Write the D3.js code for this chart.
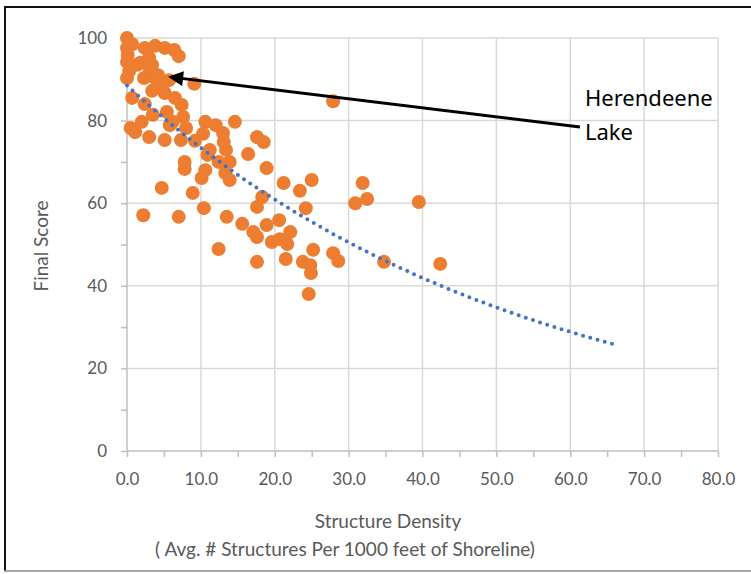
<!DOCTYPE html>
<html><head><meta charset="utf-8">
<script src="https://cdn.jsdelivr.net/npm/d3@7"></script>
<style>body{margin:0;background:#fff}svg{display:block}</style>
</head><body>
<script>
// Data (structure density vs final score)
const densityValues = [0.0,0.7,0.0,0.1,2.4,3.8,5.1,6.4,7.0,3.0,3.4,3.1,0.3,0.0,1.4,2.3,3.8,4.7,5.7,9.1,0.7,2.4,3.4,5.1,6.5,7.4,1.8,4.2,0.0,
  5.4,6.2,7.6,3.5,2.0,0.5,1.1,3.0,5.1,7.3,5.8,10.6,12.0,13.0,13.1,10.3,14.6,17.6,18.5,9.2,11.2,10.9,13.4,12.4,13.9,16.4,7.8,7.8,10.6,10.1,
  13.3,13.9,18.9,4.7,8.9,21.2,25.0,23.4,18.3,17.6,10.4,24.2,2.2,7.0,13.5,15.6,18.9,20.6,17.1,17.6,22.1,19.6,20.7,21.7,12.4,25.2,17.6,21.5,
  23.8,24.9,24.6,27.9,27.9,28.6,30.9,31.9,32.5,34.8,39.5,42.4,24.8,8.0];
const finalScores = [100,98.5,97.6,95.9,97.6,98.1,97.6,97.1,95.6,95.2,93.5,92.0,92.0,90.3,93.5,90.3,90.3,88.6,89.8,88.9,85.5,84.0,87.2,86.7,85.5,83.8,94.0,91.0,94.2,
  82.1,79.7,80.9,81.4,79.7,78.2,77.2,76.0,75.3,75.3,78.9,79.7,78.9,77.0,74.8,76.8,79.7,76.0,74.8,75.1,72.9,71.7,72.9,70.0,70.0,71.9,70.0,68.3,68.0,66.1,
  67.3,65.6,68.5,63.7,62.5,64.9,65.6,63.0,61.5,59.1,58.8,58.8,57.1,56.7,56.7,55.0,54.7,55.9,53.0,51.8,53.0,50.6,51.3,50.1,48.9,48.7,45.8,46.5,
  45.8,43.1,38.0,84.7,47.9,46.0,60.0,64.9,61.0,45.8,60.3,45.3,45.0,78.2];
const xTicks = [0,10,20,30,40,50,60,70,80];
const yTicks = [0,20,40,60,80,100];
const trendForecastEnd = 66; // trendline drawn from 0 to here
const annotationLines = ["Herendeene","Lake"];
const annotatedPoint = [5.7, 89.8];

const W = 751, H = 574;
const svg = d3.select("body").append("svg").attr("width", W).attr("height", H);

const x = d3.scaleLinear().domain([0,80]).range([127,718]);
const y = d3.scaleLinear().domain([0,100]).range([451,38]);

// frame
svg.append("line").attr("x1",4).attr("x2",W).attr("y1",7).attr("y2",7).attr("stroke","#111").attr("stroke-width",2);
svg.append("line").attr("x1",5).attr("x2",5).attr("y1",6).attr("y2",571).attr("stroke","#111").attr("stroke-width",2);
svg.append("line").attr("x1",4).attr("x2",W).attr("y1",571).attr("y2",571).attr("stroke","#888").attr("stroke-width",1.5);

const gridColor = "#d9d9d9";
// gridlines
svg.append("g").selectAll("line").data(xTicks.slice(1)).join("line")
  .attr("x1",d=>x(d)).attr("x2",d=>x(d)).attr("y1",y(100)).attr("y2",y(0))
  .attr("stroke",gridColor).attr("stroke-width",1.5);
svg.append("g").selectAll("line").data(yTicks.slice(1)).join("line")
  .attr("x1",x(0)).attr("x2",x(80)).attr("y1",d=>y(d)).attr("y2",d=>y(d))
  .attr("stroke",gridColor).attr("stroke-width",1.5);

const font = "Lato, 'Open Sans', sans-serif";
const tickColor = "#595959";
// x axis
const xAxis = svg.append("g").attr("transform",`translate(0,${y(0)})`)
  .call(d3.axisBottom(x).tickValues(d3.range(0,81,5)).tickSize(6).tickPadding(16)
    .tickFormat(d => d % 10 === 0 ? d3.format(".1f")(d) : ""));
xAxis.select(".domain").attr("stroke","#bfbfbf").attr("stroke-width",1.5).attr("d",`M${x(0)},0H${x(80)}`);
xAxis.selectAll(".tick line").attr("stroke","#bfbfbf").attr("stroke-width",1.5).attr("y1",0);
xAxis.selectAll("text").attr("font-family",font).attr("font-size",17).attr("fill",tickColor);

// y axis
const yAxis = svg.append("g").attr("transform",`translate(${x(0)},0)`)
  .call(d3.axisLeft(y).tickValues(d3.range(0,101,10)).tickSize(6).tickPadding(14)
    .tickFormat(d => d % 20 === 0 ? d : ""));
yAxis.select(".domain").attr("stroke","#bfbfbf").attr("stroke-width",1.5).attr("d",`M0,${y(0)}V${y(100)}`);
yAxis.selectAll(".tick line").attr("stroke","#bfbfbf").attr("stroke-width",1.5);
yAxis.selectAll("text").attr("font-family",font).attr("font-size",17).attr("fill",tickColor);

// axis titles
svg.append("text").attr("x",388).attr("y",528).attr("text-anchor","middle")
  .attr("font-family",font).attr("font-size",19).attr("fill",tickColor).text("Structure Density");
svg.append("text").attr("x",345).attr("y",556).attr("text-anchor","middle")
  .attr("font-family",font).attr("font-size",19).attr("fill",tickColor).text("( Avg. # Structures Per 1000 feet of Shoreline)");
svg.append("text").attr("transform","translate(48,246) rotate(-90)").attr("text-anchor","middle")
  .attr("font-family",font).attr("font-size",19).attr("fill",tickColor).text("Final Score");

// points
const pts = densityValues.map((d,i)=>({x:d,y:finalScores[i]}));
svg.append("g").selectAll("circle").data(pts).join("circle")
  .attr("cx",d=>x(d.x)).attr("cy",d=>y(d.y)).attr("r",7).attr("fill","#ED7D31");

// exponential trendline (least squares on ln y, as spreadsheet does)
const mx = d3.mean(pts,d=>d.x), my = d3.mean(pts,d=>Math.log(d.y));
const b = d3.sum(pts,d=>(d.x-mx)*(Math.log(d.y)-my)) / d3.sum(pts,d=>(d.x-mx)**2);
const a = Math.exp(my - b*mx);
const trendPts = d3.range(0, trendForecastEnd+0.01, 0.5).map(t=>[t, a*Math.exp(b*t)]);
svg.append("path").datum(trendPts)
  .attr("d", d3.line().x(d=>x(d[0])).y(d=>y(d[1])))
  .attr("fill","none").attr("stroke","#4472C4").attr("stroke-width",4)
  .attr("stroke-linecap","round").attr("stroke-dasharray","0 7.5");

// annotation arrow
const defs = svg.append("defs");
defs.append("marker").attr("id","ah").attr("viewBox","0 0 10 10").attr("refX",8).attr("refY",5)
  .attr("markerWidth",6).attr("markerHeight",5).attr("orient","auto")
  .append("path").attr("d","M0,0L10,5L0,10z").attr("fill","#000");
svg.append("line").attr("x1",580).attr("y1",127).attr("x2",x(annotatedPoint[0])+2).attr("y2",y(annotatedPoint[1])-3)
  .attr("stroke","#000").attr("stroke-width",3).attr("marker-end","url(#ah)");
svg.append("g").selectAll("text").data(annotationLines).join("text")
  .attr("x",585).attr("y",(d,i)=>106+i*34).attr("font-family","'Noto Sans', sans-serif")
  .attr("font-size",22).attr("fill","#000").text(d=>d);
</script>
</body></html>
